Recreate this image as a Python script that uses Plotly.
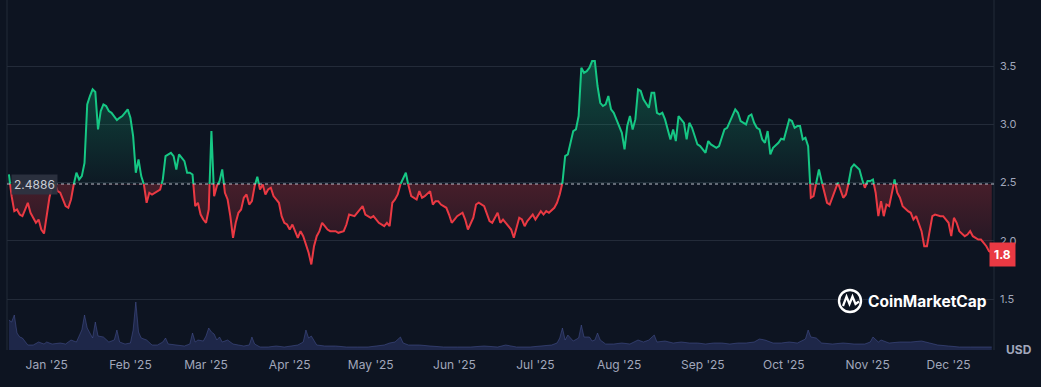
import numpy as np
import pandas as pd
import plotly.graph_objects as go

# ---------------- data ----------------
baseline_price = 2.4886
last_price_label = "1.8"

price_dates = [
    "2024-12-18", "2024-12-19", "2024-12-20", "2024-12-21", "2024-12-22", "2024-12-23", "2024-12-24",
    "2024-12-25", "2024-12-26", "2024-12-28", "2024-12-29", "2024-12-30", "2024-12-31",
    "2025-01-01", "2025-01-02", "2025-01-03", "2025-01-04", "2025-01-05", "2025-01-06", "2025-01-08",
    "2025-01-09", "2025-01-10", "2025-01-11", "2025-01-12", "2025-01-13", "2025-01-14", "2025-01-15",
    "2025-01-16", "2025-01-17", "2025-01-18", "2025-01-19", "2025-01-20", "2025-01-21", "2025-01-22",
    "2025-01-23", "2025-01-24", "2025-01-25", "2025-01-27", "2025-01-28", "2025-01-29", "2025-01-31",
    "2025-02-01", "2025-02-02", "2025-02-03", "2025-02-04", "2025-02-05", "2025-02-06", "2025-02-07",
    "2025-02-08", "2025-02-09", "2025-02-11", "2025-02-12", "2025-02-13", "2025-02-14", "2025-02-16",
    "2025-02-17", "2025-02-18", "2025-02-19", "2025-02-21", "2025-02-22", "2025-02-23", "2025-02-24",
    "2025-02-25", "2025-02-26", "2025-02-27", "2025-02-28",
    "2025-03-01", "2025-03-02", "2025-03-03", "2025-03-04", "2025-03-05", "2025-03-06", "2025-03-07",
    "2025-03-08", "2025-03-09", "2025-03-10", "2025-03-11", "2025-03-12", "2025-03-13", "2025-03-14",
    "2025-03-15", "2025-03-16", "2025-03-17", "2025-03-18", "2025-03-19", "2025-03-20", "2025-03-21",
    "2025-03-22", "2025-03-23", "2025-03-24", "2025-03-25", "2025-03-26", "2025-03-28", "2025-03-29",
    "2025-03-30", "2025-03-31",
    "2025-04-01", "2025-04-02", "2025-04-04", "2025-04-05", "2025-04-06", "2025-04-08", "2025-04-09",
    "2025-04-10", "2025-04-11", "2025-04-12", "2025-04-13", "2025-04-14", "2025-04-15", "2025-04-16",
    "2025-04-18", "2025-04-19", "2025-04-21", "2025-04-22", "2025-04-23", "2025-04-25", "2025-04-26",
    "2025-04-28", "2025-04-29",
    "2025-05-01", "2025-05-02", "2025-05-03", "2025-05-04", "2025-05-06", "2025-05-07", "2025-05-08",
    "2025-05-09", "2025-05-10", "2025-05-11", "2025-05-12", "2025-05-13", "2025-05-14", "2025-05-15",
    "2025-05-16", "2025-05-18", "2025-05-19", "2025-05-20", "2025-05-21", "2025-05-23", "2025-05-24",
    "2025-05-25", "2025-05-26", "2025-05-27", "2025-05-29", "2025-05-30", "2025-05-31",
    "2025-06-01", "2025-06-02", "2025-06-04", "2025-06-05", "2025-06-06", "2025-06-07", "2025-06-08",
    "2025-06-09", "2025-06-10", "2025-06-12", "2025-06-13", "2025-06-14", "2025-06-15", "2025-06-17",
    "2025-06-18", "2025-06-19", "2025-06-20", "2025-06-22", "2025-06-23", "2025-06-24", "2025-06-25",
    "2025-06-26", "2025-06-27", "2025-06-28", "2025-06-29", "2025-06-30",
    "2025-07-01", "2025-07-03", "2025-07-04", "2025-07-05", "2025-07-06", "2025-07-08", "2025-07-09",
    "2025-07-10", "2025-07-11", "2025-07-12", "2025-07-13", "2025-07-14", "2025-07-15", "2025-07-16",
    "2025-07-17", "2025-07-18", "2025-07-19", "2025-07-20", "2025-07-21", "2025-07-22", "2025-07-23",
    "2025-07-24", "2025-07-25", "2025-07-26", "2025-07-27", "2025-07-28", "2025-07-29", "2025-07-30",
    "2025-07-31",
    "2025-08-02", "2025-08-03", "2025-08-04", "2025-08-05", "2025-08-06", "2025-08-07", "2025-08-08",
    "2025-08-09", "2025-08-10", "2025-08-12", "2025-08-13", "2025-08-14", "2025-08-15", "2025-08-16",
    "2025-08-17", "2025-08-18", "2025-08-20", "2025-08-21", "2025-08-22", "2025-08-23", "2025-08-24",
    "2025-08-25", "2025-08-26", "2025-08-27", "2025-08-28", "2025-08-29", "2025-08-30", "2025-08-31",
    "2025-09-01", "2025-09-02", "2025-09-03", "2025-09-04", "2025-09-06", "2025-09-07", "2025-09-08",
    "2025-09-09", "2025-09-10", "2025-09-11", "2025-09-12", "2025-09-13", "2025-09-14", "2025-09-15",
    "2025-09-17", "2025-09-18", "2025-09-19", "2025-09-20", "2025-09-21", "2025-09-22", "2025-09-23",
    "2025-09-24", "2025-09-25", "2025-09-26", "2025-09-27", "2025-09-29", "2025-09-30",
    "2025-10-01", "2025-10-02", "2025-10-03", "2025-10-04", "2025-10-05", "2025-10-06", "2025-10-07",
    "2025-10-08", "2025-10-09", "2025-10-10", "2025-10-11", "2025-10-12", "2025-10-13", "2025-10-14",
    "2025-10-15", "2025-10-16", "2025-10-17", "2025-10-18", "2025-10-19", "2025-10-20", "2025-10-21",
    "2025-10-22", "2025-10-23", "2025-10-24", "2025-10-25", "2025-10-26", "2025-10-27", "2025-10-29",
    "2025-10-30", "2025-10-31",
    "2025-11-01", "2025-11-02", "2025-11-03", "2025-11-04", "2025-11-05", "2025-11-06", "2025-11-07",
    "2025-11-08", "2025-11-09", "2025-11-10", "2025-11-11", "2025-11-12", "2025-11-13", "2025-11-14",
    "2025-11-16", "2025-11-17", "2025-11-18", "2025-11-19", "2025-11-21", "2025-11-22", "2025-11-23",
    "2025-11-24", "2025-11-25", "2025-11-26", "2025-11-28", "2025-11-29", "2025-11-30",
    "2025-12-01", "2025-12-02", "2025-12-03", "2025-12-04", "2025-12-05", "2025-12-07", "2025-12-08",
    "2025-12-09", "2025-12-10", "2025-12-12", "2025-12-13", "2025-12-14", "2025-12-15", "2025-12-16",
    "2025-12-17",
]

price_values = [
    2.570, 2.384, 2.255, 2.269, 2.226, 2.212, 2.269, 2.327, 2.241, 2.155, 2.183, 2.097, 2.063,
    2.212, 2.370, 2.470, 2.499, 2.427, 2.413, 2.298, 2.284, 2.355, 2.484, 2.585, 2.527, 2.556, 2.670,
    3.172, 3.244, 3.301, 3.278, 2.957, 3.115, 3.172, 3.158, 3.115, 3.100, 3.037, 3.057, 3.072, 3.129,
    3.057, 2.900, 2.585, 2.699, 2.556, 2.484, 2.327, 2.413, 2.398, 2.427, 2.441, 2.527, 2.728, 2.756,
    2.728, 2.613, 2.742, 2.685, 2.585, 2.585, 2.570, 2.298, 2.327, 2.226, 2.183,
    2.155, 2.269, 2.943, 2.384, 2.470, 2.513, 2.613, 2.413, 2.355, 2.212, 2.026, 2.155, 2.241, 2.269,
    2.370, 2.398, 2.312, 2.341, 2.470, 2.550, 2.441, 2.484, 2.398, 2.441, 2.456, 2.384, 2.327, 2.212,
    2.155, 2.140,
    2.097, 2.140, 2.026, 2.083, 2.040, 1.897, 1.797, 1.954, 2.040, 2.083, 2.155, 2.126, 2.097, 2.083,
    2.083, 2.069, 2.083, 2.140, 2.226, 2.212, 2.241, 2.298, 2.226,
    2.198, 2.212, 2.183, 2.155, 2.126, 2.155, 2.126, 2.327, 2.355, 2.398, 2.484, 2.542, 2.585, 2.470,
    2.384, 2.355, 2.427, 2.370, 2.384, 2.427, 2.312, 2.341, 2.341, 2.312, 2.284, 2.226, 2.155,
    2.183, 2.212, 2.241, 2.183, 2.097, 2.155, 2.198, 2.312, 2.327, 2.298, 2.241, 2.169, 2.155, 2.241,
    2.155, 2.183, 2.155, 2.097, 2.026, 2.126, 2.198, 2.183, 2.126, 2.169, 2.198, 2.226,
    2.183, 2.255, 2.226, 2.255, 2.241, 2.284, 2.327, 2.398, 2.499, 2.728, 2.742, 2.842, 2.943, 2.957,
    3.072, 3.487, 3.444, 3.458, 3.487, 3.544, 3.544, 3.330, 3.186, 3.158, 3.172, 3.244, 3.129, 3.100,
    3.043,
    2.928, 2.785, 2.986, 3.072, 2.957, 3.043, 3.301, 3.287, 3.215, 3.143, 3.272, 3.272, 3.100, 3.086,
    3.100, 3.043, 2.871, 2.957, 2.857, 3.072, 3.043, 3.014, 2.871, 3.014, 2.971, 2.900, 2.828, 2.814,
    2.785, 2.756, 2.857, 2.828, 2.799, 2.814, 2.885, 2.957, 2.971, 3.029, 3.086, 3.129, 3.100, 3.029,
    3.000, 3.072, 3.086, 3.014, 2.971, 2.957, 2.871, 2.842, 2.943, 2.742, 2.799, 2.842, 2.877,
    2.871, 2.957, 3.043, 3.029, 2.971, 2.986, 2.986, 2.871, 2.885, 2.814, 2.370, 2.384, 2.499, 2.613,
    2.513, 2.413, 2.327, 2.312, 2.370, 2.427, 2.499, 2.441, 2.370, 2.398, 2.499, 2.628, 2.656, 2.613,
    2.527, 2.456,
    2.513, 2.513, 2.527, 2.413, 2.212, 2.341, 2.212, 2.312, 2.298, 2.398, 2.527, 2.413, 2.370, 2.298,
    2.255, 2.241, 2.183, 2.212, 2.083, 1.954, 1.954, 2.069, 2.212, 2.226, 2.212, 2.212, 2.183,
    2.155, 2.040, 2.198, 2.155, 2.083, 2.040, 2.054, 2.083, 2.040, 2.011, 2.011, 1.983, 1.954, 1.911,
    1.900,
]

volume_dates = [
    "2024-12-18", "2024-12-19", "2024-12-20", "2024-12-21", "2024-12-22", "2024-12-23", "2024-12-25",
    "2024-12-27", "2024-12-29", "2024-12-31", "2025-01-01", "2025-01-03", "2025-01-06", "2025-01-08",
    "2025-01-10", "2025-01-12", "2025-01-14", "2025-01-15", "2025-01-16", "2025-01-17", "2025-01-18",
    "2025-01-19", "2025-01-20", "2025-01-22", "2025-01-24", "2025-01-26", "2025-01-27", "2025-01-28",
    "2025-01-30", "2025-02-01", "2025-02-02", "2025-02-03", "2025-02-04", "2025-02-05", "2025-02-07",
    "2025-02-09", "2025-02-11", "2025-02-13", "2025-02-14", "2025-02-15", "2025-02-18", "2025-02-21",
    "2025-02-23", "2025-02-24", "2025-02-25", "2025-02-26", "2025-02-28", "2025-03-01", "2025-03-02",
    "2025-03-03", "2025-03-04", "2025-03-05", "2025-03-06", "2025-03-07", "2025-03-09", "2025-03-11",
    "2025-03-13", "2025-03-15", "2025-03-17", "2025-03-18", "2025-03-19", "2025-03-21", "2025-03-24",
    "2025-03-27", "2025-03-30", "2025-04-02", "2025-04-04", "2025-04-06", "2025-04-07", "2025-04-08",
    "2025-04-09", "2025-04-11", "2025-04-14", "2025-04-18", "2025-04-22", "2025-04-26", "2025-04-30",
    "2025-05-03", "2025-05-06", "2025-05-08", "2025-05-10", "2025-05-12", "2025-05-13", "2025-05-15",
    "2025-05-19", "2025-05-23", "2025-05-28", "2025-06-02", "2025-06-07", "2025-06-12", "2025-06-17",
    "2025-06-20", "2025-06-24", "2025-06-29", "2025-07-03", "2025-07-07", "2025-07-09", "2025-07-10",
    "2025-07-11", "2025-07-12", "2025-07-13", "2025-07-15", "2025-07-17", "2025-07-18", "2025-07-19",
    "2025-07-21", "2025-07-22", "2025-07-23", "2025-07-24", "2025-07-25", "2025-07-27", "2025-07-30",
    "2025-08-02", "2025-08-05", "2025-08-08", "2025-08-10", "2025-08-12", "2025-08-14", "2025-08-15",
    "2025-08-18", "2025-08-21", "2025-08-24", "2025-08-27", "2025-08-30", "2025-09-02", "2025-09-05",
    "2025-09-08", "2025-09-11", "2025-09-14", "2025-09-17", "2025-09-20", "2025-09-22", "2025-09-24",
    "2025-09-27", "2025-09-30", "2025-10-03", "2025-10-06", "2025-10-09", "2025-10-10", "2025-10-11",
    "2025-10-13", "2025-10-15", "2025-10-19", "2025-10-23", "2025-10-27", "2025-10-31", "2025-11-02",
    "2025-11-03", "2025-11-05", "2025-11-06", "2025-11-09", "2025-11-13", "2025-11-17", "2025-11-21",
    "2025-11-24", "2025-11-27", "2025-12-01", "2025-12-05", "2025-12-09", "2025-12-13", "2025-12-17",
]

volume_values = [
    30, 28, 35, 17, 13, 12, 5, 5, 8, 6, 8, 6, 7, 6,
    10, 8, 20, 35, 22, 17, 12, 28, 14, 13, 8, 10, 20, 8,
    6, 7, 20, 48, 18, 12, 10, 5, 5, 8, 12, 6, 5, 4,
    6, 17, 8, 10, 9, 14, 22, 18, 16, 10, 13, 8, 10, 6,
    5, 4, 5, 13, 6, 3, 3, 4, 3, 4, 5, 8, 20, 12,
    14, 5, 4, 4, 3, 3, 3, 4, 5, 7, 8, 13, 7, 5,
    5, 4, 3, 3, 3, 4, 3, 5, 3, 3, 4, 5, 7, 12,
    22, 10, 15, 9, 12, 25, 13, 13, 9, 10, 17, 10, 6, 6,
    7, 6, 10, 8, 10, 15, 8, 9, 7, 8, 7, 7, 6, 7,
    7, 6, 7, 7, 8, 11, 10, 7, 7, 8, 7, 11, 20, 13,
    12, 7, 6, 7, 6, 6, 8, 13, 8, 10, 7, 8, 8, 9,
    7, 5, 4, 3, 3, 3, 3,
]

month_ticks = ["2025-01-01", "2025-02-01", "2025-03-01", "2025-04-01", "2025-05-01", "2025-06-01",
               "2025-07-01", "2025-08-01", "2025-09-01", "2025-10-01", "2025-11-01", "2025-12-01"]
month_labels = ["Jan '25", "Feb '25", "Mar '25", "Apr '25", "May '25", "Jun '25",
                "Jul '25", "Aug '25", "Sep '25", "Oct '25", "Nov '25", "Dec '25"]
price_ticks = [1.5, 2.0, 2.5, 3.0, 3.5]
price_tick_labels = ["1.5", "2.0", "2.5", "3.0", "3.5"]

# ---------------- style ----------------
BG = "#0d1421"
GREEN = "#16c784"
RED = "#ea3943"
GRID = "#232b39"
TXT = "#a1a7bb"

# ---------------- split series at the baseline ----------------
ts = pd.to_datetime(price_dates)
secs = ((ts - pd.Timestamp("1970-01-01")) / pd.Timedelta(seconds=1)).to_numpy()
pv = np.array(price_values, dtype=float)
B = baseline_price

aug_t, aug_p = [secs[0]], [pv[0]]
for i in range(1, len(pv)):
    p0, p1 = pv[i - 1], pv[i]
    if (p0 - B) * (p1 - B) < 0:
        f = (B - p0) / (p1 - p0)
        aug_t.append(secs[i - 1] + f * (secs[i] - secs[i - 1]))
        aug_p.append(B)
    aug_t.append(secs[i])
    aug_p.append(pv[i])
aug_p = np.array(aug_p)
x_aug = pd.to_datetime(np.array(aug_t), unit="s")

upper = np.maximum(aug_p, B)
lower = np.minimum(aug_p, B)
green_line = [p if p >= B - 1e-9 else None for p in aug_p]
red_line = [p if p <= B + 1e-9 else None for p in aug_p]

fig = go.Figure()

# volume
fig.add_trace(go.Scatter(
    x=pd.to_datetime(volume_dates), y=volume_values, yaxis="y2", mode="lines",
    line=dict(color="rgba(80,94,165,0.45)", width=1), fill="tozeroy",
    fillcolor="rgba(55,67,128,0.42)", hoverinfo="skip", showlegend=False))

# upper fill
fig.add_trace(go.Scatter(x=x_aug, y=[B] * len(x_aug), mode="lines", line=dict(width=0),
                         hoverinfo="skip", showlegend=False))
fig.add_trace(go.Scatter(
    x=x_aug, y=upper, mode="lines", line=dict(width=0), fill="tonexty",
    fillgradient=dict(type="vertical", start=B, stop=3.6,
                      colorscale=[[0, "rgba(22,199,132,0.03)"], [1, "rgba(22,199,132,0.33)"]]),
    hoverinfo="skip", showlegend=False))

# lower fill
fig.add_trace(go.Scatter(x=x_aug, y=[B] * len(x_aug), mode="lines", line=dict(width=0),
                         hoverinfo="skip", showlegend=False))
fig.add_trace(go.Scatter(
    x=x_aug, y=lower, mode="lines", line=dict(width=0), fill="tonexty",
    fillgradient=dict(type="vertical", start=1.8, stop=B,
                      colorscale=[[0, "rgba(234,57,67,0.06)"], [1, "rgba(234,57,67,0.26)"]]),
    hoverinfo="skip", showlegend=False))

# lines
fig.add_trace(go.Scatter(x=x_aug, y=red_line, mode="lines", line=dict(color=RED, width=2),
                         connectgaps=False, showlegend=False))
fig.add_trace(go.Scatter(x=x_aug, y=green_line, mode="lines", line=dict(color=GREEN, width=2),
                         connectgaps=False, showlegend=False))

# ---------------- layout helpers (pixel -> paper) ----------------
PL, PR, PT, PB = 7, 994, 0, 350


def px(xp):
    return (xp - PL) / (PR - PL)


def py(yp):
    return (PB - yp) / (PB - PT)


shapes = [
    dict(type="line", xref="paper", yref="y", x0=0, x1=1, y0=B, y1=B,
         line=dict(color="rgba(205,210,220,0.6)", width=1.5, dash="dot"), layer="above"),
    dict(type="line", xref="paper", yref="paper", x0=0, x1=0, y0=0, y1=1,
         line=dict(color=GRID, width=1), layer="below"),
    dict(type="line", xref="paper", yref="paper", x0=1, x1=1, y0=0, y1=1,
         line=dict(color=GRID, width=1), layer="below"),
    # CoinMarketCap logo
    dict(type="circle", xref="paper", yref="paper", x0=px(839), x1=px(861), y0=py(312), y1=py(290),
         line=dict(color="white", width=2.4), layer="above"),
    dict(type="path", xref="paper", yref="paper", layer="above",
         path=(f"M {px(843)} {py(306)} L {px(846.5)} {py(296.5)} L {px(849.5)} {py(304)} "
               f"L {px(852.5)} {py(296.5)} L {px(855.5)} {py(304)} L {px(859)} {py(301.5)}"),
         line=dict(color="white", width=2.2)),
]

annotations = [
    dict(xref="paper", yref="y", x=px(11), y=B, xanchor="left", yanchor="middle", yshift=-1,
         text="2.4886", showarrow=False, bgcolor="rgba(44,51,65,0.92)", borderpad=2,
         font=dict(color="#c9cdd5", size=12)),
    dict(xref="x", yref="y", x=price_dates[-1], y=price_values[-1], xanchor="left", yanchor="middle",
         xshift=-3, yshift=-2, text=f"<b>{last_price_label}</b>", showarrow=False, bgcolor=RED,
         borderpad=4, font=dict(color="white", size=12)),
    dict(xref="paper", yref="paper", x=px(1004), y=py(349), xanchor="left", yanchor="middle",
         text="<b>USD</b>", showarrow=False, font=dict(color=TXT, size=12)),
    dict(xref="paper", yref="paper", x=px(866), y=py(301), xanchor="left", yanchor="middle",
         text="<b>CoinMarketCap</b>", showarrow=False, font=dict(color="white", size=15.5)),
]

fig.update_layout(
    width=1041, height=387,
    margin=dict(l=PL, r=1041 - PR, t=PT, b=387 - PB),
    paper_bgcolor=BG, plot_bgcolor=BG,
    showlegend=False,
    font=dict(family="Inter, Roboto, sans-serif", color=TXT, size=12),
    xaxis=dict(type="date", range=["2024-12-17 07:00", "2025-12-17 20:00"],
               tickvals=month_ticks, ticktext=month_labels, showgrid=False, zeroline=False,
               showline=False, ticks="", tickfont=dict(size=12, color=TXT), ticklabelstandoff=6),
    yaxis=dict(side="right", range=[1.062, 4.069], tickvals=price_ticks, ticktext=price_tick_labels,
               showgrid=True, gridcolor=GRID, gridwidth=1, zeroline=False, showline=False,
               ticks="", tickfont=dict(size=11, color=TXT), ticklabelstandoff=5),
    yaxis2=dict(overlaying="y", range=[0, 350], visible=False),
    shapes=shapes,
    annotations=annotations,
    hovermode=False,
)

fig.write_html("out.html", config={"displayModeBar": False},
               post_script="document.body.style.margin='0';")
